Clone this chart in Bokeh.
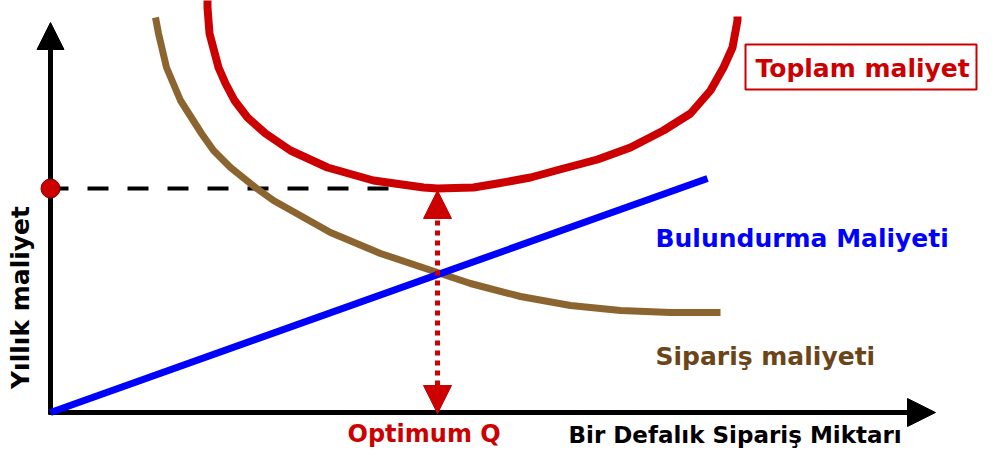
from bokeh.plotting import figure
from bokeh.models import Arrow, NormalHead, Range1d
from bokeh.core.properties import value
from bokeh.embed import file_html
from bokeh.resources import INLINE
import math

# ---- data (quantity Q on x, annual cost on y) ----
holding_q = [0, 657]
holding_cost = [0, 234]

order_q = [105, 108, 116, 130, 151, 163, 180, 205, 223, 280, 330, 387, 420, 470,
           520, 570, 620, 670]
order_cost = [395, 379, 345, 312, 279, 262, 245, 225, 212, 180, 159, 140, 129, 116,
              107, 102, 100, 100]

total_q = [157, 157, 159, 168, 175, 184, 197, 215, 240, 277, 323, 373, 387, 423, 447,
           480, 513, 547, 580, 613, 640, 660, 673, 682, 687, 687]
total_cost = [416, 405, 379, 345, 329, 312, 295, 279, 262, 245, 232, 225, 224, 225, 229,
              235, 244, 253, 265, 282, 299, 322, 345, 365, 392, 396]

optimum_q = 387
optimum_cost = 224

RED = "#CC0000"
BLUE = "#0000FF"
BROWN = "#8C6430"
BROWN_TXT = "#6B4518"
FONT = value("DejaVu Sans")

p = figure(width=978, height=452, output_backend="svg", toolbar_location=None,
           x_range=Range1d(-50, 928), y_range=Range1d(-40, 412),
           min_border=0, min_border_left=0, min_border_right=0,
           min_border_top=0, min_border_bottom=0)
p.axis.visible = False
p.grid.visible = False
p.outline_line_color = None
p.background_fill_color = "white"
p.border_fill_color = "white"

# axes as arrows
y_axis = Arrow(end=NormalHead(size=27, fill_color="black", line_color="black", line_width=1),
               x_start=0, y_start=-2, x_end=0, y_end=390,
               line_width=5, line_color="black", level="underlay")
x_axis = Arrow(end=NormalHead(size=28, fill_color="black", line_color="black", line_width=1),
               x_start=-2, y_start=0, x_end=885, y_end=0,
               line_width=5, line_color="black", level="underlay")
p.add_layout(y_axis)
p.add_layout(x_axis)

# dashed level line to minimum total cost
p.line([-3, optimum_q - 45], [optimum_cost, optimum_cost], line_color="black",
       line_width=4, line_dash="21 19")

# curves
p.line(order_q, order_cost, line_color=BROWN, line_width=7, line_join="round")
p.line(holding_q, holding_cost, line_color=BLUE, line_width=7)
p.line(total_q, total_cost, line_color=RED, line_width=8, line_join="round")

# red dot on y axis
p.scatter([0], [optimum_cost], size=19, fill_color=RED, line_color="#800000", line_width=1)

# dotted double arrow at optimum Q
p.add_layout(Arrow(start=NormalHead(size=28, fill_color=RED, line_color=RED, line_width=1),
                   end=NormalHead(size=28, fill_color=RED, line_color=RED, line_width=1),
                   x_start=optimum_q, y_start=optimum_cost - 2, x_end=optimum_q, y_end=-1,
                   line_width=5, line_color=RED, line_dash="5 5"))

# label box
p.quad(left=[695], right=[926], top=[368], bottom=[323], fill_color=None,
       line_color=RED, line_width=2)

def label(x, y, txt, color, size, angle=0, align="left"):
    p.text([x], [y], text=[txt], text_color=color, text_font=FONT,
           text_font_size=size, text_font_style="bold", text_align=align,
           text_baseline="alphabetic", angle=angle)

label(705, 344, "Toplam maliyet", RED, "25px")
label(605, 174, "Bulundurma Maliyeti", BLUE, "25px")
label(605, 56, "Sipariş maliyeti", BROWN_TXT, "25px")
label(297, -21, "Optimum Q", RED, "24px")
label(518, -22, "Bir Defalık Sipariş Miktarı", "black", "23px")
label(-30, 115, "Yıllık maliyet", "black", "25px", angle=math.pi / 2, align="center")

open("out.html", "w").write(file_html(p, INLINE))
